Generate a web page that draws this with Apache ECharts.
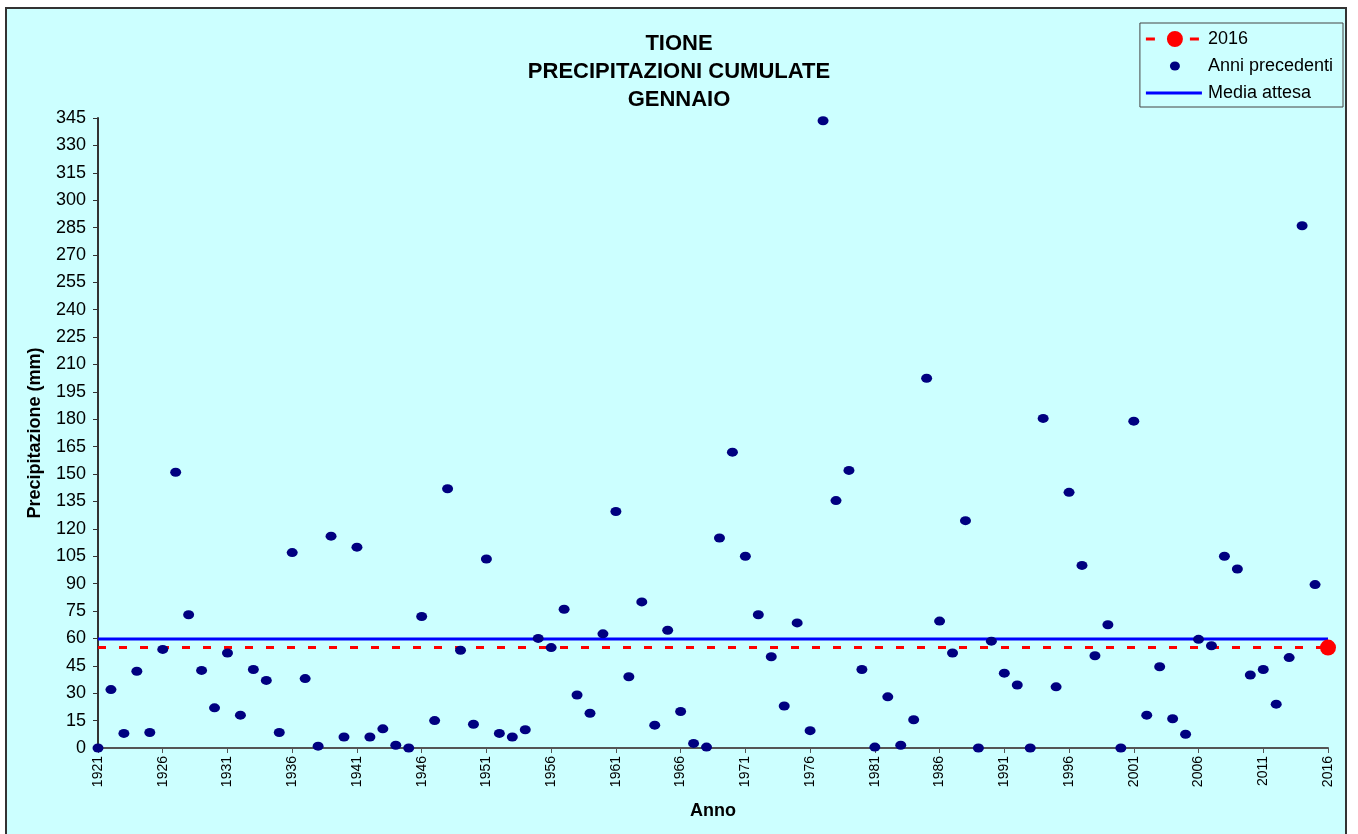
<!DOCTYPE html>
<html>
<head>
<meta charset="utf-8">
<script src="https://cdn.jsdelivr.net/npm/echarts@6/dist/echarts.min.js"></script>
<style>
html,body{margin:0;padding:0;background:#fff;}
#c{width:1358px;height:834px;}
</style>
</head>
<body>
<div id="c"></div>
<script>
const years = [];
for (let y = 1921; y <= 2015; y++) years.push(y);
const precip = [
  0, 32, 8, 42, 8.5, 54, 151, 73, 42.5, 22,
  52, 18, 43, 37, 8.5, 107, 38, 1, 116, 6,
  110, 6, 10.5, 1.5, 0, 72, 15, 142, 53.5, 13,
  103.5, 8, 6, 10, 60, 55, 76, 29, 19, 62.5,
  129.5, 39, 80, 12.5, 64.5, 20, 2.5, 0.5, 115, 162,
  105, 73, 50, 23, 68.5, 9.5, 343.5, 135.5, 152, 43,
  0.5, 28, 1.5, 15.5, 202.5, 69.5, 52, 124.5, 0, 58.5,
  41, 34.5, 0, 180.5, 33.5, 140, 100, 50.5, 67.5, 0,
  179, 18, 44.5, 16, 7.5, 59.5, 56, 105, 98, 40,
  43, 24, 49.5, 286, 89.5
];
const currentYear = 2016;
const currentValue = 55;
const mediaAttesa = 59.7;
const xMin = 1921, xMax = 2016;
const titleLines = ['TIONE', 'PRECIPITAZIONI CUMULATE', 'GENNAIO'];

const chart = echarts.init(document.getElementById('c'));
const scatterData = years.map((y, i) => [y, precip[i]]);
const font = 'Arial, "Liberation Sans", sans-serif';

// legend icons (bounding box 57x16 kept by invisible move points)
const iconCurrent = 'path://M0,0 M57,16 M0,6.5 L9,6.5 L9,9.5 L0,9.5 Z M44,6.5 L53,6.5 L53,9.5 L44,9.5 Z M21,8 A8,8 0 1 1 37,8 A8,8 0 1 1 21,8 Z';
const iconDot = 'path://M0,0 M57,16 M24,8 A5,4.5 0 1 1 34,8 A5,4.5 0 1 1 24,8 Z';
const iconLine = 'path://M0,0 M57,16 M0,6.5 L56,6.5 L56,9.5 L0,9.5 Z';

chart.setOption({
  backgroundColor: '#ffffff',
  animation: false,
  graphic: [{
    type: 'rect', z: -10, silent: true,
    shape: { x: 6, y: 8, width: 1340, height: 840 },
    style: { fill: '#CCFFFF', stroke: '#333333', lineWidth: 2 }
  }],
  title: {
    text: titleLines.join('\n'),
    left: 'center', top: 25,
    textStyle: { fontFamily: font, fontSize: 22, fontWeight: 'bold', color: '#000', lineHeight: 28 }
  },
  legend: {
    orient: 'vertical', right: 15, top: 23,
    backgroundColor: '#CCFFFF', borderColor: '#444', borderWidth: 1,
    padding: [7, 10, 5, 6], itemGap: 9, itemWidth: 57, itemHeight: 16,
    textStyle: { fontFamily: font, fontSize: 18, color: '#000' },
    data: [
      { name: '2016', icon: iconCurrent },
      { name: 'Anni precedenti', icon: iconDot },
      { name: 'Media attesa', icon: iconLine }
    ]
  },
  grid: { left: 98, right: 30, top: 118, bottom: 86, containLabel: false },
  xAxis: {
    type: 'value', min: xMin, max: xMax, interval: 5,
    name: 'Anno', nameLocation: 'middle', nameGap: 54,
    nameTextStyle: { fontFamily: font, fontSize: 18, fontWeight: 'bold', color: '#000' },
    axisLine: { lineStyle: { color: '#555', width: 2 } },
    axisTick: { show: true, length: 5, lineStyle: { color: '#555' } },
    axisLabel: { rotate: 90, fontFamily: font, fontSize: 14, color: '#000', margin: 8, formatter: v => String(v) },
    splitLine: { show: false }
  },
  yAxis: {
    type: 'value', min: 0, max: 345, interval: 15,
    name: 'Precipitazione (mm)', nameLocation: 'middle', nameGap: 54,
    nameTextStyle: { fontFamily: font, fontSize: 18, fontWeight: 'bold', color: '#000' },
    axisLine: { show: true, lineStyle: { color: '#333', width: 2 } },
    axisTick: { show: true, inside: false, length: 5, lineStyle: { color: '#333' } },
    axisLabel: { fontFamily: font, fontSize: 18, color: '#000', margin: 12 },
    splitLine: { show: false }
  },
  series: [
    {
      name: 'Media attesa', type: 'line', symbol: 'none', z: 2,
      lineStyle: { color: '#0000FF', width: 3 },
      itemStyle: { color: '#0000FF' },
      data: [[xMin, mediaAttesa], [xMax, mediaAttesa]]
    },
    {
      name: '2016', type: 'line', symbol: 'circle', symbolSize: 16, z: 3,
      lineStyle: { color: '#FF0000', width: 3, type: [8, 13] },
      itemStyle: { color: '#FF0000' },
      data: [{ value: [xMin, currentValue], symbol: 'none' }, [currentYear, currentValue]]
    },
    {
      name: 'Anni precedenti', type: 'scatter', symbol: 'circle', symbolSize: [11, 9], z: 4,
      itemStyle: { color: '#000080', opacity: 1 },
      data: scatterData
    }
  ]
});
</script>
</body>
</html>
